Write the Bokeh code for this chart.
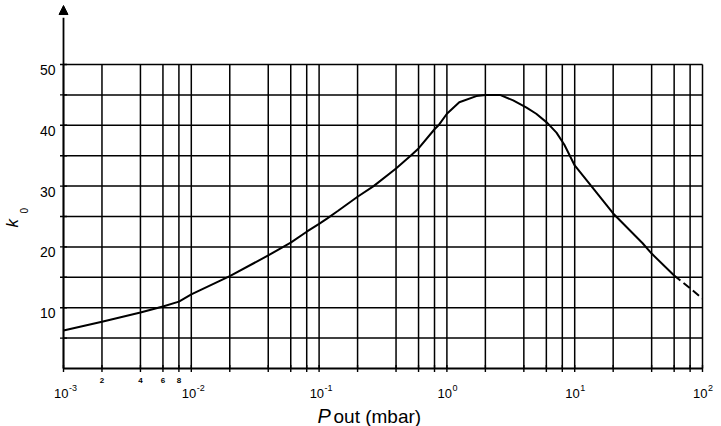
import math
from bokeh.plotting import figure
from bokeh.models import Range1d, Arrow, NormalHead
from bokeh.core.properties import value
from bokeh.embed import file_html
from bokeh.resources import INLINE

# ---- data ----
pressure = [1e-3, 2e-3, 4e-3, 6e-3, 8e-3, 1e-2, 2e-2, 4e-2, 6e-2, 8e-2,
            0.1, 0.116, 0.14, 0.2, 0.267, 0.4, 0.52, 0.6, 0.8, 0.86,
            1.0, 1.25, 1.7, 2.0, 2.6, 3.3, 4.2, 5.0, 6.1, 7.2,
            8.3, 10, 14, 20, 34, 40, 60]
k0 = [6.25, 7.7, 9.2, 10.2, 11.0, 12.2, 15.2, 18.6, 20.7, 22.5,
      23.8, 24.7, 25.9, 28.25, 30.0, 32.9, 35.0, 36.2, 39.35, 40.0,
      41.9, 43.8, 44.8, 45.0, 45.0, 44.1, 42.9, 41.9, 40.4, 38.8,
      36.8, 33.4, 29.6, 25.5, 20.6, 18.9, 15.3]
pressure_dashed = [60, 80, 100]
k0_dashed = [15.3, 13.2, 11.5]

grid_x = [m * 10.0 ** e for e in range(-3, 2) for m in (1, 2, 4, 6, 8)] + [100.0]
grid_y = [5, 10, 15, 20, 25, 30, 35, 40, 45, 50]
y_tick_labels = [10, 20, 30, 40, 50]
x_decades = [1e-3, 1e-2, 1e-1, 1.0, 10.0, 100.0]
x_exponents = ["-3", "-2", "-1", "0", "1", "2"]
x_minor = [2e-3, 4e-3, 6e-3, 8e-3]
x_minor_labels = ["2", "4", "6", "8"]

X0, X1 = 1e-3, 100.0
ARROW_TOP = 59.7

# ---- layout (pixel frame of the reference) ----
W, H = 721, 426
L, R, B, T50 = 63, 702, 368, 64          # x=1e-3 at L, x=1e2 at R, y=0 at B, y=50 at T50
DEC = (R - L) / (math.log10(X1) - math.log10(X0))
SY = (B - T50) / 50.0


def xd(px):
    return 10 ** (math.log10(X0) + (px - L) / DEC)


def yd(py):
    return (B - py) / SY


FONT = value("Liberation Sans")

p = figure(width=W, height=H, x_axis_type="log",
           x_range=Range1d(xd(0), xd(W)), y_range=Range1d(yd(H), yd(0)),
           x_axis_location=None, y_axis_location=None,
           output_backend="svg", toolbar_location=None,
           min_border=0, min_border_left=0, min_border_right=0,
           min_border_top=0, min_border_bottom=0)
p.outline_line_color = None
p.background_fill_color = "white"
p.border_fill_color = "white"
p.xgrid.visible = False
p.ygrid.visible = False

# grid
p.segment(x0=grid_x, x1=grid_x, y0=[0] * len(grid_x), y1=[max(grid_y)] * len(grid_x),
          line_color="black", line_width=1.5)
p.segment(x0=[X0] * len(grid_y), x1=[max(grid_x)] * len(grid_y), y0=grid_y, y1=grid_y,
          line_color="black", line_width=1.5)

# axis lines
p.segment(x0=[X0], x1=[X1], y0=[0], y1=[0], line_color="black", line_width=1.8)
p.segment(x0=[X0], x1=[X0], y0=[0], y1=[ARROW_TOP - 2], line_color="black", line_width=1.8)
p.add_layout(Arrow(end=NormalHead(size=9, fill_color="black", line_color="black", line_width=1),
                   x_start=X0, y_start=max(grid_y), x_end=X0, y_end=ARROW_TOP,
                   line_color=None))

# ticks
p.scatter(x=grid_x, y=[0] * len(grid_x), marker="dash", angle=math.pi / 2, size=7,
          line_color="black", line_width=1.4)
p.scatter(x=[X0] * len(grid_y), y=grid_y, marker="dash", size=7,
          line_color="black", line_width=1.4)

# curve
p.line(pressure, k0, line_color="black", line_width=2)
p.line(pressure_dashed, k0_dashed, line_color="black", line_width=2, line_dash="8 4")

# tick labels
p.text(x=x_decades, y=[0] * len(x_decades), text=["10"] * len(x_decades),
       text_font=FONT, text_font_size="13px", text_align="right",
       text_baseline="alphabetic", x_offset=5, y_offset=25, text_color="black")
p.text(x=x_decades, y=[0] * len(x_decades), text=x_exponents,
       text_font=FONT, text_font_size="9px", text_align="left",
       text_baseline="alphabetic", x_offset=5.5, y_offset=19, text_color="black")
p.text(x=x_minor, y=[0] * len(x_minor), text=x_minor_labels,
       text_font=FONT, text_font_size="8px", text_font_style="bold",
       text_align="center", text_baseline="alphabetic", y_offset=12, text_color="black")
p.text(x=[X0] * len(y_tick_labels), y=y_tick_labels, text=[str(v) for v in y_tick_labels],
       text_font=FONT, text_font_size="14px", text_align="right",
       text_baseline="alphabetic", x_offset=-8, y_offset=5.5, text_color="black")

# axis titles
p.text(x=[xd(317)], y=[yd(415.5)], text=["P"], text_font=FONT, text_font_size="20px",
       text_font_style="italic", text_align="left", text_baseline="alphabetic")
p.text(x=[xd(333)], y=[yd(415.5)], text=["out (mbar)"], text_font=FONT,
       text_font_size="19px", text_align="left", text_baseline="alphabetic")
p.text(x=[xd(12)], y=[yd(227)], text=["k"], text_font=FONT, text_font_size="17px",
       text_font_style="italic", angle=math.pi / 2,
       text_align="left", text_baseline="alphabetic")
p.text(x=[xd(23.5)], y=[yd(213)], text=["0"], text_font=FONT, text_font_size="10px",
       angle=math.pi / 2, text_align="left", text_baseline="alphabetic")

open("out.html", "w").write(file_html(p, INLINE))
